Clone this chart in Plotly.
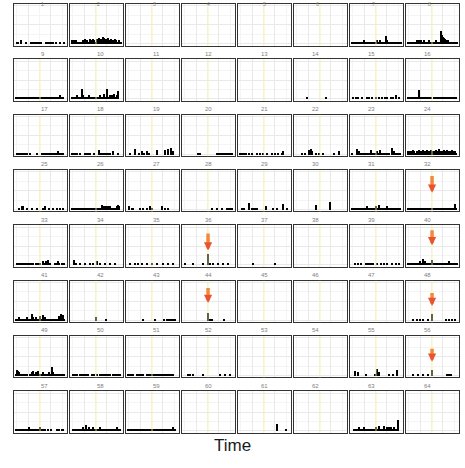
import plotly.graph_objects as go

W, H = 465, 468

# Weekly event counts per site (bin index -> count); 50 time bins per site.
weekly_counts = {
    1: {1: 1, 2: 1, 5: 3, 10: 1, 15: 1, 16: 1, 17: 1, 18: 1, 19: 1, 20: 1, 22: 1, 23: 1, 24: 1, 25: 1, 30: 1, 32: 2, 33: 2, 35: 1, 36: 1, 37: 1, 40: 1, 44: 1, 48: 1},
    2: {0: 3, 1: 3, 2: 3, 3: 3, 4: 3, 5: 2, 6: 2, 7: 2, 8: 2, 9: 2, 10: 2, 11: 3, 12: 2, 13: 4, 14: 2, 15: 3, 16: 2, 17: 2, 18: 4, 19: 3, 20: 2, 21: 4, 22: 3, 23: 2, 24: 2, 25: 4, 26: 3, 27: 5, 28: 2, 29: 4, 30: 3, 31: 6, 32: 5, 33: 3, 34: 4, 35: 2, 36: 5, 37: 3, 38: 2, 39: 4, 40: 3, 41: 2, 42: 3, 43: 4, 44: 3, 45: 2, 46: 2, 47: 3, 48: 2, 49: 2},
    3: {}, 4: {}, 5: {}, 6: {},
    7: {0: 2, 1: 1, 2: 2, 3: 2, 4: 1, 5: 2, 6: 2, 7: 1, 8: 2, 9: 2, 10: 1, 11: 2, 12: 3, 13: 2, 14: 1, 15: 2, 16: 2, 17: 1, 18: 2, 19: 2, 20: 1, 21: 2, 22: 2, 23: 2, 24: 2, 25: 3, 26: 2, 27: 2, 28: 3, 29: 2, 30: 1, 31: 2, 32: 2, 33: 2, 34: 7, 35: 3, 36: 2, 37: 1, 38: 2, 39: 2, 40: 2, 41: 1, 42: 2, 43: 2, 44: 2, 45: 1, 46: 2, 47: 2, 48: 2, 49: 2},
    8: {0: 2, 1: 2, 2: 1, 3: 2, 4: 2, 5: 2, 6: 1, 7: 2, 8: 2, 9: 3, 10: 3, 11: 3, 12: 3, 13: 3, 14: 2, 15: 2, 16: 3, 17: 2, 18: 2, 19: 1, 20: 2, 21: 3, 22: 2, 23: 2, 24: 2, 25: 2, 26: 1, 27: 2, 28: 3, 29: 2, 30: 2, 31: 2, 32: 2, 33: 12, 34: 8, 35: 6, 36: 5, 37: 4, 38: 3, 39: 3, 40: 3, 41: 2, 42: 2, 43: 2, 44: 2, 45: 2, 46: 2, 47: 2, 48: 1, 49: 1},
    9: {0: 1, 1: 1, 2: 1, 3: 2, 4: 1, 5: 1, 6: 1, 7: 1, 8: 2, 9: 1, 10: 1, 11: 1, 12: 1, 13: 1, 14: 2, 15: 1, 16: 1, 17: 1, 18: 1, 19: 1, 20: 2, 21: 1, 22: 1, 23: 1, 24: 1, 25: 1, 26: 1, 27: 1, 28: 1, 29: 1, 30: 2, 31: 1, 32: 1, 33: 1, 34: 1, 35: 2, 36: 1, 37: 1, 38: 1, 39: 1, 40: 2, 41: 1, 42: 1, 43: 1, 44: 3, 45: 1, 46: 2, 47: 1},
    10: {0: 1, 1: 1, 2: 1, 3: 1, 4: 2, 5: 3, 6: 1, 7: 1, 8: 1, 9: 2, 10: 9, 11: 3, 12: 1, 13: 1, 14: 1, 15: 2, 16: 1, 17: 3, 18: 1, 19: 1, 21: 2, 22: 1, 24: 1, 25: 1, 26: 1, 27: 1, 28: 3, 29: 1, 30: 1, 31: 2, 32: 4, 33: 1, 34: 1, 35: 9, 36: 1, 37: 1, 38: 3, 39: 1, 40: 3, 41: 1, 42: 4, 43: 1, 44: 1, 45: 3, 46: 7},
    11: {}, 12: {}, 13: {},
    14: {11: 2, 30: 2},
    15: {1: 1, 4: 2, 6: 1, 10: 1, 15: 2, 17: 2, 20: 1, 24: 2, 27: 1, 30: 1, 33: 2, 35: 1, 39: 1, 41: 2, 44: 3, 47: 2},
    16: {0: 1, 1: 1, 2: 1, 3: 1, 4: 1, 5: 1, 6: 1, 7: 1, 8: 1, 9: 1, 10: 1, 11: 8, 12: 2, 13: 2, 14: 2, 15: 2, 16: 2, 17: 1, 18: 1, 19: 1, 20: 1, 21: 1, 22: 1, 23: 1, 26: 1, 27: 1, 28: 1, 29: 1, 30: 1, 31: 1, 32: 1, 33: 2, 34: 1, 35: 1, 36: 1, 37: 1, 38: 1, 39: 2, 40: 1, 41: 1, 42: 1, 43: 1, 44: 1, 45: 1, 46: 2, 47: 1, 48: 1},
    17: {1: 1, 2: 1, 3: 1, 4: 1, 5: 1, 6: 1, 7: 1, 8: 1, 9: 1, 11: 2, 14: 1, 21: 2, 26: 1, 27: 1, 28: 1, 29: 1, 30: 1, 31: 1, 32: 1, 33: 1, 34: 1, 36: 2, 37: 1, 38: 1, 39: 2, 40: 1, 41: 1, 42: 3, 43: 1, 44: 1, 45: 1, 46: 2, 47: 1},
    18: {0: 1, 1: 1, 2: 1, 3: 1, 5: 2, 8: 1, 13: 1, 14: 1, 15: 1, 16: 1, 17: 1, 18: 1, 22: 2, 27: 4, 28: 1, 29: 2, 31: 1, 32: 1, 33: 2, 34: 1, 35: 1, 36: 2, 37: 1, 38: 1, 41: 3, 46: 2},
    19: {2: 2, 7: 5, 11: 2, 14: 3, 16: 2, 19: 3, 21: 1, 29: 4, 37: 4, 40: 5, 43: 6, 45: 3},
    20: {14: 1, 16: 1, 33: 1, 34: 1, 35: 1, 36: 1, 37: 1, 38: 1, 39: 1, 40: 1, 41: 1, 42: 1, 43: 1, 44: 1, 45: 1, 46: 1, 47: 1, 48: 1},
    21: {0: 2, 2: 2, 4: 2, 6: 2, 9: 2, 12: 1, 17: 2, 20: 1, 23: 1, 27: 1, 32: 1, 35: 2, 38: 1, 42: 2, 43: 3},
    22: {6: 2, 9: 1, 13: 4, 15: 5, 16: 3, 20: 2, 23: 1, 27: 2, 38: 1, 43: 3},
    23: {0: 1, 5: 5, 6: 3, 7: 3, 8: 1, 9: 2, 10: 1, 11: 1, 12: 2, 13: 1, 15: 1, 17: 2, 18: 1, 19: 4, 20: 1, 21: 2, 23: 1, 25: 3, 26: 1, 28: 4, 29: 1, 30: 2, 32: 1, 34: 2, 35: 1, 37: 1, 40: 6, 41: 1, 42: 3, 44: 1, 45: 2, 47: 1, 48: 2},
    24: {0: 3, 1: 2, 2: 3, 3: 3, 4: 2, 5: 4, 6: 3, 7: 2, 8: 2, 9: 3, 10: 3, 11: 4, 12: 3, 13: 2, 14: 3, 15: 4, 16: 2, 17: 3, 18: 3, 19: 4, 20: 2, 21: 3, 22: 2, 23: 4, 24: 3, 25: 3, 26: 2, 27: 3, 28: 4, 29: 2, 30: 3, 31: 5, 32: 3, 33: 2, 34: 3, 35: 3, 36: 4, 37: 2, 38: 3, 39: 4, 40: 3, 41: 2, 42: 3, 43: 2, 44: 4, 45: 3, 46: 2, 47: 3, 48: 2},
    25: {3: 2, 6: 3, 7: 3, 11: 2, 16: 2, 21: 2, 27: 2, 29: 3, 33: 2, 37: 2, 41: 2, 44: 2, 47: 2},
    26: {0: 1, 1: 1, 2: 2, 3: 1, 4: 1, 5: 1, 6: 2, 7: 1, 8: 1, 9: 1, 10: 2, 11: 1, 12: 1, 13: 1, 14: 2, 16: 2, 17: 1, 18: 1, 19: 1, 21: 2, 22: 1, 23: 1, 25: 2, 26: 2, 27: 2, 28: 2, 29: 1, 30: 4, 31: 3, 32: 3, 33: 2, 34: 3, 35: 3, 36: 3, 37: 2, 38: 3, 39: 1, 40: 2, 41: 2, 42: 2, 43: 2, 44: 2, 45: 3, 46: 4, 47: 3},
    27: {1: 3, 4: 2, 5: 1, 12: 1, 15: 1, 19: 2, 22: 3, 24: 2, 34: 3, 37: 1, 40: 1},
    28: {28: 2, 33: 1, 38: 1, 43: 1, 44: 1, 45: 1, 46: 1, 47: 1, 48: 1},
    29: {2: 1, 4: 2, 9: 6, 12: 1, 13: 1, 14: 1, 15: 1, 16: 1, 17: 1, 26: 3, 33: 2, 37: 1, 43: 5, 47: 1},
    30: {20: 4, 34: 7},
    31: {0: 1, 1: 2, 2: 1, 3: 2, 4: 2, 5: 1, 6: 2, 7: 2, 8: 1, 9: 2, 10: 2, 11: 2, 12: 1, 13: 2, 14: 2, 15: 3, 16: 2, 17: 2, 18: 1, 19: 2, 20: 2, 21: 2, 22: 2, 23: 1, 24: 3, 25: 2, 26: 2, 27: 4, 28: 2, 29: 1, 30: 2, 31: 1, 32: 2, 33: 2, 34: 1, 35: 3, 36: 2, 37: 2, 38: 1, 39: 2, 40: 2, 41: 1, 42: 2, 43: 2, 44: 1, 45: 2, 46: 2, 47: 1, 48: 1},
    32: {0: 1, 1: 1, 2: 1, 3: 1, 4: 1, 5: 1, 6: 1, 7: 1, 8: 1, 9: 1, 10: 1, 11: 1, 12: 2, 13: 1, 14: 1, 15: 1, 16: 1, 17: 1, 18: 1, 19: 1, 20: 1, 21: 1, 22: 1, 23: 1, 24: 2, 25: 1, 26: 1, 27: 2, 28: 1, 29: 1, 30: 2, 31: 1, 32: 1, 33: 2, 34: 1, 35: 1, 36: 1, 37: 1, 38: 1, 39: 1, 40: 1, 41: 1, 42: 1, 43: 1, 44: 1, 45: 1, 46: 1, 47: 5, 48: 1},
    33: {1: 1, 2: 1, 3: 2, 4: 1, 5: 1, 6: 2, 7: 1, 8: 1, 9: 2, 10: 1, 11: 1, 12: 2, 13: 1, 14: 1, 15: 2, 16: 1, 17: 1, 20: 2, 21: 1, 23: 2, 24: 1, 27: 3, 28: 1, 30: 3, 32: 4, 33: 1, 34: 2, 39: 2, 40: 1, 42: 3, 43: 1, 46: 2, 48: 1},
    34: {2: 4, 4: 2, 8: 1, 13: 1, 18: 1, 21: 2, 25: 3, 28: 1, 33: 1, 38: 1, 43: 1},
    35: {2: 1, 7: 1, 10: 1, 14: 2, 19: 1, 24: 1, 29: 1, 35: 1, 40: 2, 45: 2},
    36: {1: 1, 9: 1, 19: 1, 24: 10, 26: 1, 29: 1, 34: 1, 39: 1, 44: 1},
    37: {13: 1, 35: 1},
    38: {},
    39: {3: 1, 6: 1, 9: 1, 14: 1, 15: 1, 16: 1, 17: 1, 18: 1, 19: 1, 21: 1, 25: 1, 29: 1, 32: 2, 35: 1, 40: 1, 44: 1, 47: 1},
    40: {0: 1, 1: 1, 2: 1, 3: 2, 4: 2, 5: 2, 6: 2, 7: 2, 8: 2, 9: 2, 10: 1, 11: 2, 12: 3, 13: 2, 14: 2, 15: 5, 16: 2, 17: 3, 18: 2, 19: 1, 20: 2, 21: 1, 22: 1, 23: 1, 24: 4, 25: 2, 26: 2, 27: 2, 28: 2, 29: 2, 30: 2, 31: 1, 32: 2, 33: 2, 34: 2, 35: 2, 36: 1, 37: 1, 38: 2, 39: 1, 40: 1, 41: 3, 42: 1, 43: 1, 44: 2, 45: 1, 46: 1, 47: 2, 48: 1, 49: 1},
    41: {0: 1, 1: 2, 2: 1, 3: 3, 4: 1, 5: 1, 6: 2, 7: 1, 8: 1, 9: 1, 10: 1, 11: 3, 12: 2, 13: 1, 14: 1, 15: 1, 16: 6, 17: 3, 18: 1, 19: 1, 20: 3, 21: 1, 22: 2, 23: 1, 24: 4, 25: 1, 26: 1, 27: 5, 28: 1, 29: 3, 30: 1, 31: 2, 32: 1, 33: 1, 34: 2, 35: 1, 36: 1, 37: 2, 38: 1, 39: 1, 40: 2, 41: 1, 42: 1, 43: 4, 44: 1, 45: 6, 46: 1, 47: 5, 48: 2},
    42: {24: 3, 34: 2},
    43: {15: 2, 27: 1, 36: 2, 39: 2, 40: 2, 41: 2, 42: 2, 44: 2, 45: 2, 46: 2, 47: 2},
    44: {24: 7, 26: 2, 28: 1, 40: 1},
    45: {}, 46: {}, 47: {},
    48: {5: 1, 9: 1, 12: 1, 15: 1, 20: 1, 24: 6, 38: 1, 41: 1, 44: 1, 47: 1},
    49: {0: 1, 1: 5, 2: 4, 3: 3, 4: 1, 5: 2, 7: 1, 8: 1, 9: 1, 10: 1, 11: 1, 14: 2, 15: 1, 16: 3, 17: 4, 18: 1, 19: 1, 20: 3, 21: 1, 22: 4, 23: 1, 24: 2, 25: 1, 26: 1, 27: 3, 28: 1, 29: 2, 30: 1, 31: 2, 32: 1, 33: 3, 34: 1, 35: 1, 36: 8, 37: 3, 38: 1, 39: 1, 40: 2, 41: 1, 42: 2, 43: 1, 44: 1, 45: 1, 46: 2, 47: 1, 48: 2},
    50: {1: 2, 2: 2, 3: 2, 5: 1, 8: 1, 9: 1, 10: 1, 11: 1, 12: 1, 13: 1, 14: 1, 15: 1, 16: 1, 20: 1, 22: 2, 25: 1, 28: 1, 29: 1, 30: 1, 31: 1, 32: 1, 33: 1, 34: 1, 35: 1, 36: 1, 37: 1, 38: 1, 41: 1, 42: 1, 43: 1, 44: 1, 45: 1, 46: 1, 47: 1, 48: 1},
    51: {0: 1, 1: 1, 2: 1, 3: 1, 4: 1, 5: 1, 9: 2, 10: 1, 11: 2, 12: 1, 13: 1, 14: 2, 15: 1, 19: 1, 20: 1, 21: 1, 22: 2, 23: 1, 24: 1, 25: 2, 26: 1, 27: 1, 28: 1, 29: 1, 30: 2, 31: 1, 32: 1, 33: 1, 34: 1, 35: 1, 36: 2, 37: 1, 38: 1, 39: 1, 40: 2, 41: 1, 42: 1, 43: 1, 44: 2, 45: 1},
    52: {4: 2, 6: 2, 9: 2, 19: 2, 36: 2, 41: 2, 46: 2},
    53: {}, 54: {},
    55: {3: 4, 6: 3, 14: 2, 23: 2, 25: 6, 27: 3, 37: 2, 41: 2, 45: 5},
    56: {5: 1, 10: 1, 15: 1, 20: 2, 24: 5, 39: 1, 41: 1, 43: 1},
    57: {0: 1, 1: 2, 2: 1, 3: 2, 4: 1, 5: 1, 6: 2, 7: 1, 8: 1, 9: 1, 10: 1, 11: 2, 12: 1, 13: 3, 14: 1, 15: 1, 16: 2, 17: 1, 18: 2, 19: 1, 20: 1, 21: 2, 22: 1, 23: 1, 24: 3, 25: 1, 26: 2, 27: 2, 28: 2, 29: 2, 32: 2, 35: 1, 41: 1, 43: 2, 46: 2, 47: 2},
    58: {1: 1, 2: 1, 3: 1, 4: 1, 5: 1, 6: 1, 7: 1, 8: 1, 9: 1, 10: 1, 11: 3, 12: 1, 13: 1, 14: 5, 15: 1, 16: 1, 17: 3, 18: 1, 19: 1, 20: 1, 21: 3, 22: 1, 23: 1, 24: 1, 25: 2, 26: 1, 27: 1, 28: 3, 29: 1, 30: 1, 31: 1, 32: 1, 33: 2, 34: 1, 35: 1, 36: 1, 37: 1, 38: 2, 39: 1, 40: 1, 41: 1, 42: 1, 43: 2, 44: 1, 45: 3, 46: 1, 47: 1, 48: 1},
    59: {0: 1, 1: 1, 2: 2, 3: 1, 4: 1, 5: 1, 6: 1, 7: 2, 8: 1, 9: 1, 10: 1, 11: 1, 12: 2, 13: 1, 14: 1, 15: 1, 16: 1, 17: 1, 18: 1, 19: 1, 20: 2, 21: 1, 22: 1, 23: 1, 24: 2, 25: 1, 26: 1, 27: 1, 28: 1, 29: 1, 30: 2, 31: 1, 32: 1, 33: 1, 34: 1, 35: 2, 36: 1, 37: 1, 38: 1, 39: 1, 40: 2, 41: 1, 42: 1, 43: 1, 44: 1, 45: 3, 46: 1, 47: 1},
    60: {},
    61: {37: 6, 46: 2},
    62: {},
    63: {2: 2, 3: 1, 5: 2, 7: 3, 9: 2, 10: 1, 12: 3, 13: 1, 15: 2, 17: 1, 19: 2, 20: 1, 22: 1, 24: 3, 25: 1, 27: 4, 29: 2, 30: 1, 32: 4, 33: 1, 35: 3, 37: 3, 39: 3, 40: 1, 42: 3, 44: 2, 46: 10},
    64: {},
}

# Highlighted outbreak window (in time bins) and the sites where it applies
window_start, window_end = 23.3, 25.3
window_sites = list(range(2, 65))

# Alert arrows: site -> (arrow start count, arrow end count)
alerts = {32: (32.1, 16.2), 36: (29.9, 13.7), 40: (33.0, 18.7),
          44: (30.8, 16.5), 48: (26.1, 13.7), 56: (25.7, 13.3)}

Y_TOP = 36.0
N_COLS = 8
LEFT, COL_STEP, PANEL_W = 14.0, 56.0, 52.5
TOP, ROW_STEP, PANEL_H = 4.0, 55.33, 41.5
LABEL_FONT = "Liberation Sans, Arial, sans-serif"

fig = go.Figure()
layout = {}
shapes = []
annotations = []

for site in range(1, 65):
    r, c = divmod(site - 1, N_COLS)
    sfx = "" if site == 1 else str(site)
    xa, ya = "x" + sfx, "y" + sfx
    x0 = LEFT + c * COL_STEP
    top = TOP + r * ROW_STEP
    xdom = [x0 / W, (x0 + PANEL_W) / W]
    ydom = [1 - (top + PANEL_H) / H, 1 - top / H]

    counts = weekly_counts[site]
    fig.add_trace(go.Bar(x=list(counts.keys()), y=list(counts.values()),
                         width=1, xaxis=xa, yaxis=ya,
                         marker=dict(color="black", line=dict(width=0)),
                         showlegend=False, hoverinfo="skip"))

    layout["xaxis" + sfx] = dict(
        domain=xdom, anchor=ya, range=[-1.5, 50.5], fixedrange=True,
        showticklabels=False, ticks="", zeroline=False,
        showgrid=True, gridcolor="#E9E9E9", gridwidth=1,
        tick0=12.5, dtick=22.5,
        minor=dict(tick0=1.25, dtick=11.25, showgrid=True,
                   gridcolor="#F4F4F4", gridwidth=0.6),
        showline=True, mirror=True, linecolor="#333333", linewidth=1,
    )
    layout["yaxis" + sfx] = dict(
        domain=ydom, anchor=xa, range=[-0.05 * Y_TOP, 1.05 * Y_TOP],
        fixedrange=True, showticklabels=False, ticks="", zeroline=False,
        showgrid=True, gridcolor="#E9E9E9", gridwidth=1,
        tick0=0, dtick=Y_TOP / 2,
        minor=dict(tick0=0, dtick=Y_TOP / 4, showgrid=True,
                   gridcolor="#F4F4F4", gridwidth=0.6),
        showline=True, mirror=True, linecolor="#333333", linewidth=1,
    )

    if site in window_sites:
        shapes.append(dict(type="rect", xref=xa, yref=ya + " domain",
                           x0=window_start, x1=window_end, y0=0, y1=1,
                           fillcolor="rgba(248,240,170,0.42)",
                           line=dict(width=0), layer="above"))

    if site in alerts:
        y_from, y_to = alerts[site]
        xc = (window_start + window_end) / 2
        # orange shaft, then a short red arrow carrying the head
        shapes.append(dict(type="line", xref=xa, yref=ya,
                           x0=xc, x1=xc, y0=y_from, y1=y_to + 4,
                           line=dict(color="#F4883A", width=3.5),
                           layer="above"))
        annotations.append(dict(x=xc, y=y_to, ax=xc, ay=y_to + 6,
                                xref=xa, yref=ya, axref=xa, ayref=ya,
                                text="", showarrow=True, arrowhead=2,
                                arrowsize=0.55, arrowwidth=3,
                                arrowcolor="#E9542C", standoff=0))

    # site number above each panel
    if r == 0:
        label_y, anchor = 1.0, "top"
    else:
        label_y, anchor = 1 - (top - 1.5) / H, "bottom"
    annotations.append(dict(x=(xdom[0] + xdom[1]) / 2, y=label_y,
                            xref="paper", yref="paper", text=str(site),
                            showarrow=False, yanchor=anchor, borderpad=0,
                            font=dict(size=6 if r else 5, color="#808080",
                                      family=LABEL_FONT)))

annotations.append(dict(x=0.5, y=1 - 445.5 / H, xref="paper", yref="paper",
                        text="Time", showarrow=False, yanchor="middle",
                        font=dict(size=17, color="#1A1A1A", family=LABEL_FONT)))

fig.update_layout(
    width=W, height=H, margin=dict(l=0, r=0, t=0, b=0),
    paper_bgcolor="white", plot_bgcolor="white",
    bargap=0, shapes=shapes, annotations=annotations, **layout,
)

fig.write_html("out.html", config={"displayModeBar": False})
